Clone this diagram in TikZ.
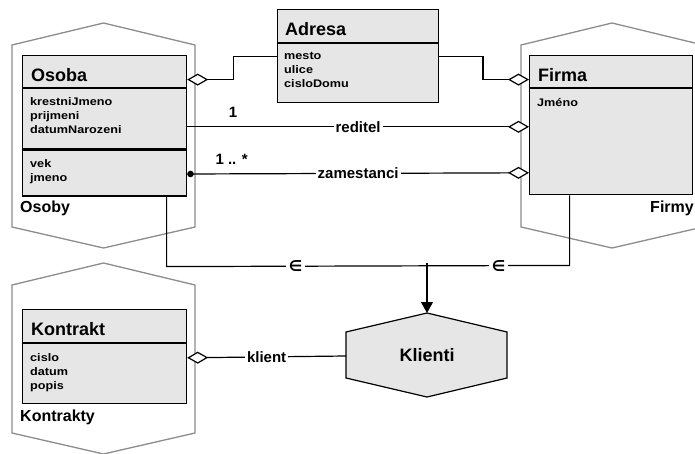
\documentclass[tikz,border=0pt]{standalone}
\usepackage{fontspec}
\setmainfont{Liberation Sans}
\newfontfamily\attrfont[FakeStretch=1.15]{Liberation Sans}
\newfontfamily\symfont{DejaVu Sans}
\usetikzlibrary{arrows.meta,calc}
\definecolor{boxfill}{HTML}{E6E6E6}
\definecolor{hexgray}{HTML}{8C8C8C}
\tikzset{
  odia/.tip={Diamond[fill=white,length=21pt,width=12pt]},
  bdot/.tip={Circle[length=6.5pt]},
  tri/.tip={Triangle[width=12pt,length=11pt]}
}
\begin{document}
\begin{tikzpicture}[x=1pt,y=-1pt,
  hexline/.style={draw=hexgray, line width=1.3pt, line join=miter},
  classpart/.style={draw=black, line width=1.2pt, fill=boxfill, rectangle, inner sep=0pt, anchor=north west},
  hdrtext/.style={font=\bfseries\fontsize{18}{20}\selectfont, inner sep=0pt, anchor=base west},
  attrtext/.style={font=\attrfont\bfseries\fontsize{11}{14}\selectfont, inner sep=0pt, anchor=north west, align=left},
  conn/.style={draw=black, line width=1.2pt},
  lbl/.style={font=\bfseries\fontsize{15}{17}\selectfont, fill=white, inner sep=2pt},
  mult/.style={font=\bfseries\fontsize{15}{17}\selectfont, inner sep=0pt, anchor=south, yshift=8.5pt},
  memb/.style={font=\symfont\bfseries\fontsize{15}{17}\selectfont, fill=white, inner sep=3pt},
  setlbl/.style={font=\bfseries\fontsize{16}{18}\selectfont, inner sep=0pt}
]
\clip (0,0) rectangle (695,454);

% set hexagons
\draw[hexline] (12,45) -- (103.5,23) -- (195,45) -- (195,227) -- (103.5,248) -- (12,227) -- cycle;
\draw[hexline] (521,45) -- (612,23) -- (703,45) -- (703,227) -- (612,248) -- (521,227) -- cycle;
\draw[hexline] (12,285) -- (103.5,263) -- (195,285) -- (195,433) -- (103.5,454) -- (12,433) -- cycle;
\draw[line width=1.2pt, fill=boxfill] (346,332) -- (427,313) -- (507,332) -- (507,378) -- (427,397) -- (346,378) -- cycle;

\node[setlbl, anchor=west] (osobyL) at (20,208) {Osoby};
\node[setlbl, anchor=east] (firmyL) at (694,208) {Firmy};
\node[setlbl, anchor=west] (kontraktyL) at (20,417) {Kontrakty};
\node[font=\bfseries\fontsize{18}{20}\selectfont, inner sep=0pt] (klienti) at (427,355) {Klienti};

% Osoba
\node[classpart, minimum width=164pt, minimum height=32pt] (osobaH) at (22,55) {};
\node[classpart, minimum width=164pt, minimum height=60pt] (osobaA) at (osobaH.south west) {};
\node[classpart, minimum width=164pt, minimum height=46pt] (osobaO) at (osobaA.south west) {};
\node[hdrtext] (osobaT) at ($(osobaH.south west)+(9,-7)$) {Osoba};
\node[attrtext] (osobaAT) at ($(osobaA.north west)+(8,9)$) {krestniJmeno\\prijmeni\\datumNarozeni};
\node[attrtext] (osobaOT) at ($(osobaO.north west)+(8,10)$) {vek\\jmeno};

% Adresa
\node[classpart, minimum width=161pt, minimum height=33pt] (adresaH) at (277,9) {};
\node[classpart, minimum width=161pt, minimum height=59pt] (adresaB) at (adresaH.south west) {};
\node[hdrtext] (adresaT) at ($(adresaH.south west)+(8,-8)$) {Adresa};
\node[attrtext] (adresaBT) at ($(adresaB.north west)+(7,9)$) {mesto\\ulice\\cisloDomu};

% Firma
\node[classpart, minimum width=163pt, minimum height=32pt] (firmaH) at (529,55) {};
\node[classpart, minimum width=163pt, minimum height=106pt] (firmaB) at (firmaH.south west) {};
\node[hdrtext] (firmaT) at ($(firmaH.south west)+(9,-7)$) {Firma};
\node[attrtext] (firmaBT) at ($(firmaB.north west)+(8,10)$) {Jméno};

% Kontrakt
\node[classpart, minimum width=164pt, minimum height=33pt] (kontraktH) at (22,309) {};
\node[classpart, minimum width=164pt, minimum height=60pt] (kontraktB) at (kontraktH.south west) {};
\node[hdrtext] (kontraktT) at ($(kontraktH.south west)+(9,-8)$) {Kontrakt};
\node[attrtext] (kontraktBT) at ($(kontraktB.north west)+(8,10)$) {cislo\\datum\\popis};

% connectors
\draw[conn, odia-] ($(osobaH.east)+(0,8)$) -- ++(46,0) |- ($(adresaB.north west)+(0,13)$);
\draw[conn, odia-] ($(firmaH.west)+(0,8)$) -- ++(-46,0) |- ($(adresaB.north east)+(0,13)$);
\draw[conn, -odia] ($(osobaA.east)+(0,8)$) -- node[lbl]{reditel} node[mult, pos=0.134]{1} ($(firmaB.west)+(0,-15)$);
\draw[conn, bdot-odia] ($(osobaO.east)+(0,1)$) -- node[lbl]{zamestanci} node[mult, pos=0.13]{1 .. *} ($(firmaB.west)+(0,31)$);
\draw[conn] ($(osobaO.south)+(62,0)$) -- ($(osobaO.south)+(62,70)$)
  -- node[memb, pos=0.32]{∈} node[memb, pos=0.824]{∈} ($(firmaB.south)+(-41.5,70)$)
  -- ($(firmaB.south)+(-41.5,0)$);
\draw[conn, -tri] ($(klienti)+(0,-92)$) -- ($(klienti)+(0,-42)$);
\draw[conn, odia-] ($(kontraktB.east)+(0,-16)$) -- node[lbl]{klient} ($(klienti)+(-81,1)$);
\end{tikzpicture}
\end{document}
